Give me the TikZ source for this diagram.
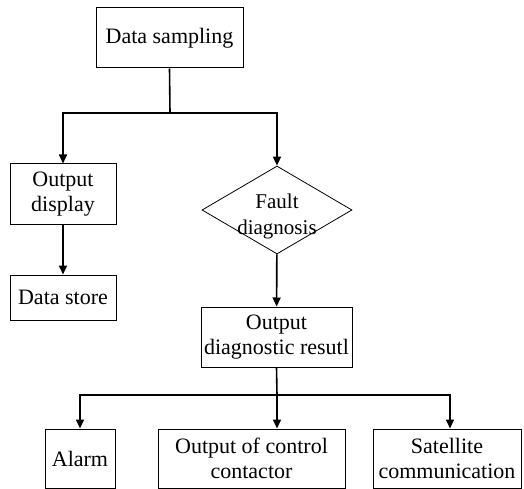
\documentclass[tikz,border=0pt]{standalone}
\usepackage{fontspec}
\setmainfont{Liberation Serif}
\usetikzlibrary{arrows.meta,shapes.geometric}

\begin{document}
\begin{tikzpicture}[x=1pt,y=-1pt,>={Triangle[length=9pt,width=8pt]},
  box/.style={draw,line width=1pt,minimum height=60pt,align=center,inner sep=1pt,
    font=\fontsize{22}{25}\selectfont},
  txt/.style={align=center,inner sep=0pt,font=\fontsize{21}{26}\selectfont},
  link/.style={->,line width=1.6pt},
  trunk/.style={line width=1.6pt}]
  \useasboundingbox (0,0) rectangle (524,489);
  % boxes
  \node[box,minimum width=147pt] (samp) at (169.5,38) {Data sampling};
  \node[box,minimum width=106pt] (disp) at (63,194) {Output\\display};
  \node[box,minimum width=106pt,minimum height=45pt] (store) at (63,297.5) {Data store};
  \node[diamond,draw,line width=0.8pt,minimum width=150pt,minimum height=88pt,inner sep=0pt] (diag) at (277,210) {};
  \node[txt] (diagtxt) at (277,216) {Fault\\diagnosis};
  \node[box,minimum width=151pt] (res) at (276.5,337) {Output\\diagnostic resutl};
  \node[box,minimum width=70pt,minimum height=59pt] (alarm) at (80,458.5) {Alarm};
  \node[box,minimum width=187pt,minimum height=59pt] (cont) at (251.5,458.5) {Output of control\\contactor};
  \node[box,minimum width=148pt,minimum height=59pt] (sat) at (447,458.5) {Satellite\\communication};
  % connectors
  \draw[trunk] (samp.south) -- (170,113) coordinate (fork1);
  \draw[link] (fork1) -| (disp.north);
  \draw[link] (fork1) -| (diag.north);
  \draw[link] (disp) -- (store);
  \draw[link] (diag) -- (res);
  \draw[trunk] (res.south) -- (277,395) coordinate (fork2);
  \draw[link] (fork2) -| (alarm.north);
  \draw[link] (fork2) -- (fork2 |- cont.north);
  \draw[link] (fork2) -| ([xshift=3pt]sat.north);
\end{tikzpicture}
\end{document}
